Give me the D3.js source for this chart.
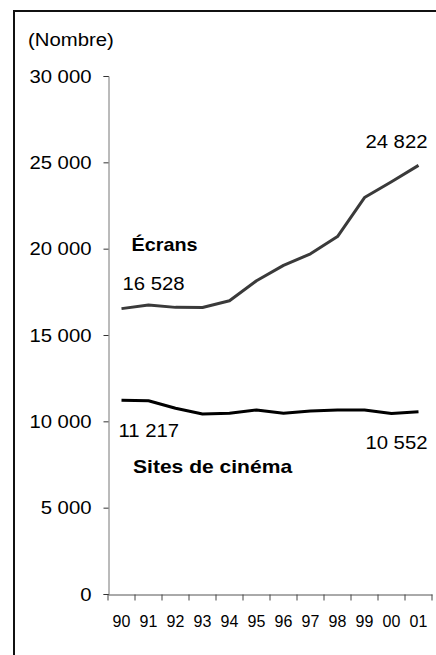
<!DOCTYPE html>
<html>
	<head>
		<script src="https://d3js.org/d3.v7.min.js"></script>
		<style>
			body { margin: 0; background: #fff; }
			text { font-family: "Liberation Sans", Arial, sans-serif; fill: #000; }
		</style>
	</head>
	<body>
		<script>
			// data
			var years = ["90","91","92","93","94","95","96","97","98","99","00","01"];
			var ecrans = [16528, 16740, 16600, 16590, 16980, 18140, 19030, 19700, 20700, 22960, 23880, 24822];
			var sites = [11217, 11190, 10760, 10430, 10470, 10660, 10470, 10600, 10660, 10660, 10450, 10552];
			var yTicks = [0, 5000, 10000, 15000, 20000, 25000, 30000];

			var width = 436;
			var height = 655;
			var sx = 1.07;	// text in the original is a bit wider than Arial

			var svg = d3.select('body').append('svg')
				.attr('width', width)
				.attr('height', height);

			// frame (right and bottom sides fall outside the picture)
			svg.append('rect')
				.attr('x', 14).attr('y', 11)
				.attr('width', 440).attr('height', 660)
				.attr('fill', 'none')
				.attr('stroke', '#111')
				.attr('stroke-width', 2);

			var x = d3.scaleBand().domain(years).range([108, 432]);
			var y = d3.scaleLinear().domain([0, 30000]).range([594, 76]);

			var fmt = function(v) { return d3.format(',')(v).replace(/,/g, ' '); };

			// y axis
			var gy = svg.append('g')
				.attr('transform', 'translate(108.5,0)')
				.call(d3.axisLeft(y).tickValues(yTicks).tickSize(5).tickPadding(12).tickFormat(fmt));
			gy.select('.domain').attr('stroke', '#777');
			gy.selectAll('.tick line').attr('stroke', '#333');
			gy.selectAll('.tick text')
				.attr('font-size', 19)
				.attr('x', -17 / sx)
				.attr('transform', 'scale(' + sx + ',1)');

			// x axis
			var gx = svg.append('g')
				.attr('transform', 'translate(0,594.5)')
				.call(d3.axisBottom(x).tickSize(0).tickPadding(21));
			gx.select('.domain').attr('stroke', '#555');
			gx.selectAll('.tick text').attr('font-size', 16);
			gx.selectAll('.sep')
				.data(d3.range(years.length + 1))
				.enter()
				.append('line')
				.attr('x1', function(i) { return x.range()[0] + i * x.step(); })
				.attr('x2', function(i) { return x.range()[0] + i * x.step(); })
				.attr('y1', 0).attr('y2', 6)
				.attr('stroke', '#444');

			// lines
			var line = d3.line()
				.x(function(d, i) { return x(years[i]) + x.bandwidth() / 2; })
				.y(function(d) { return y(d); });

			svg.append('path')
				.datum(ecrans)
				.attr('d', line)
				.attr('fill', 'none')
				.attr('stroke', '#3a3a3a')
				.attr('stroke-width', 3)
				.attr('stroke-linejoin', 'round');

			svg.append('path')
				.datum(sites)
				.attr('d', line)
				.attr('fill', 'none')
				.attr('stroke', '#000')
				.attr('stroke-width', 3)
				.attr('stroke-linejoin', 'round');

			function label(txt, px, py, anchor, size, weight, scale) {
				svg.append('text')
					.attr('transform', 'translate(' + px + ',' + py + ') scale(' + scale + ',1)')
					.attr('text-anchor', anchor)
					.attr('font-size', size)
					.attr('font-weight', weight)
					.text(txt);
			}

			var cx0 = x(years[0]) + x.bandwidth() / 2;
			var cxN = x(years[years.length - 1]) + x.bandwidth() / 2;

			label('(Nombre)', 28, 45.5, 'start', 19, 'normal', sx);
			label(fmt(ecrans[0]), cx0 + 1, y(ecrans[0]) - 18.5, 'start', 19, 'normal', sx);
			label(fmt(ecrans[11]), cxN + 9, y(ecrans[11]) - 17, 'end', 19, 'normal', sx);
			label(fmt(sites[0]), cx0 - 3, y(sites[0]) + 37, 'start', 19, 'normal', sx);
			label(fmt(sites[11]), cxN + 9, y(sites[11]) + 37.5, 'end', 19, 'normal', sx);
			label('Écrans', 131.5, 250.5, 'start', 18, 'bold', 1.1);
			label('Sites de cinéma', 133, 473, 'start', 18, 'bold', 1.17);
		</script>
	</body>
</html>
